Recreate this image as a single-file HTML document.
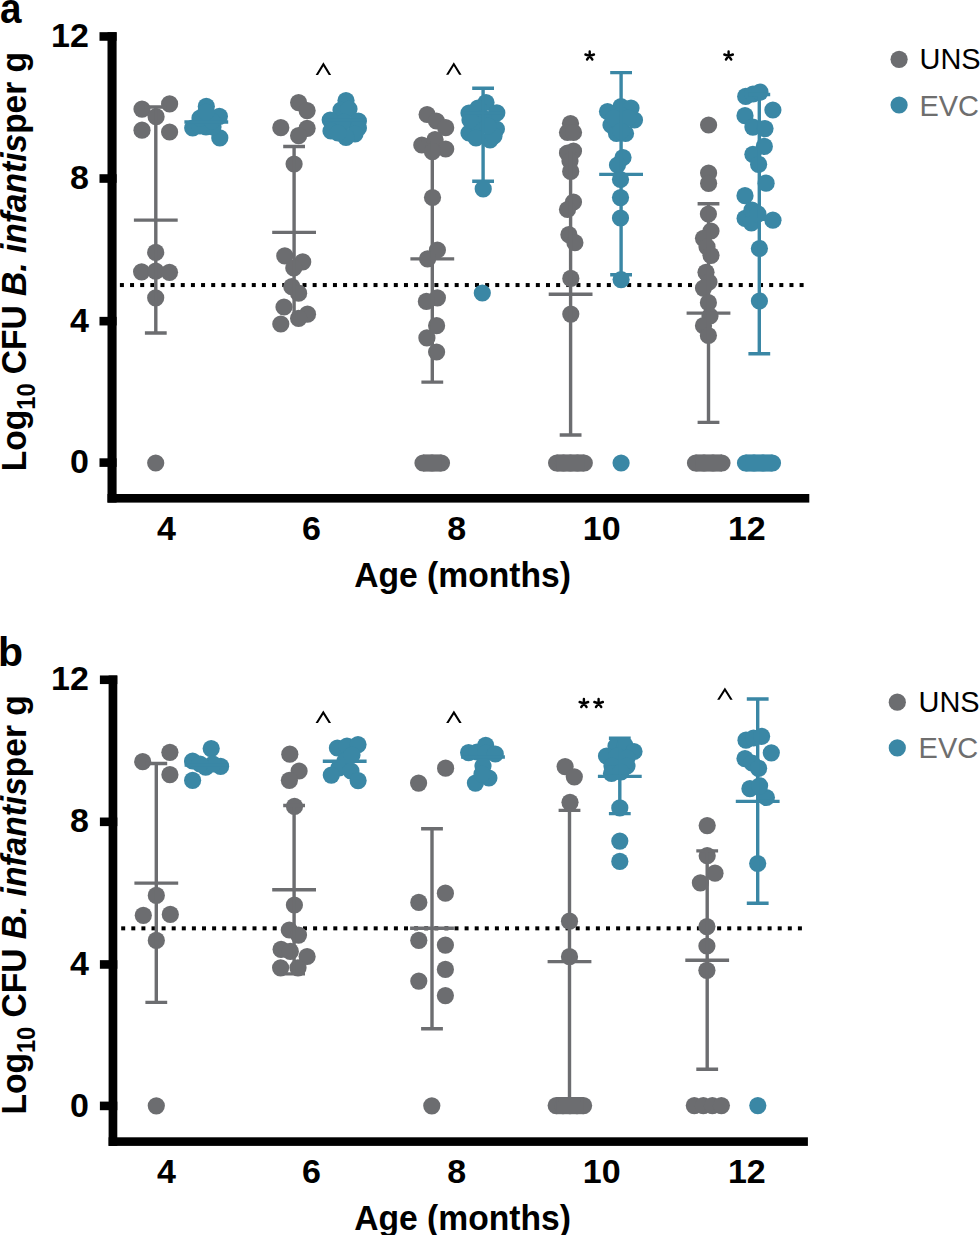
<!DOCTYPE html>
<html><head><meta charset="utf-8"><style>
html,body{margin:0;padding:0;background:#fff;width:980px;height:1235px;overflow:hidden}
svg{display:block}
text{font-family:"Liberation Sans",sans-serif}
.tl{font-weight:bold;font-size:34px}
.yt{font-weight:bold;font-size:35.5px}
.pl{font-weight:bold;font-size:40px}
.lg{font-size:30.4px}
</style></head><body>
<svg width="980" height="1235" viewBox="0 0 980 1235">
<rect x="107.5" y="32.2" width="9.1" height="470.40000000000003" fill="#000"/>
<rect x="99.5" y="458.30" width="17.10" height="8.6" fill="#000"/>
<text x="88.9" y="473.20" class="tl" text-anchor="end">0</text>
<rect x="99.5" y="316.86" width="17.10" height="8.6" fill="#000"/>
<text x="88.9" y="331.76" class="tl" text-anchor="end">4</text>
<rect x="99.5" y="174.22" width="17.10" height="8.6" fill="#000"/>
<text x="88.9" y="189.12" class="tl" text-anchor="end">8</text>
<rect x="99.5" y="32.18" width="17.10" height="8.6" fill="#000"/>
<text x="88.9" y="47.08" class="tl" text-anchor="end">12</text>
<rect x="107.5" y="494.00" width="701.80" height="8.6" fill="#000"/>
<text x="166.40" y="539.80" class="tl" text-anchor="middle">4</text>
<text x="311.50" y="539.80" class="tl" text-anchor="middle">6</text>
<text x="456.60" y="539.80" class="tl" text-anchor="middle">8</text>
<text x="601.70" y="539.80" class="tl" text-anchor="middle">10</text>
<text x="746.80" y="539.80" class="tl" text-anchor="middle">12</text>
<text transform="translate(462.6,586.90) scale(0.975,1)" class="tl" text-anchor="middle" style="font-size:34.5px">Age (months)</text>
<rect x="119.90" y="283.05" width="4" height="4" fill="#000"/>
<rect x="130.05" y="283.05" width="4" height="4" fill="#000"/>
<rect x="140.19" y="283.05" width="4" height="4" fill="#000"/>
<rect x="150.34" y="283.05" width="4" height="4" fill="#000"/>
<rect x="160.48" y="283.05" width="4" height="4" fill="#000"/>
<rect x="170.62" y="283.05" width="4" height="4" fill="#000"/>
<rect x="180.77" y="283.05" width="4" height="4" fill="#000"/>
<rect x="190.92" y="283.05" width="4" height="4" fill="#000"/>
<rect x="201.06" y="283.05" width="4" height="4" fill="#000"/>
<rect x="211.20" y="283.05" width="4" height="4" fill="#000"/>
<rect x="221.35" y="283.05" width="4" height="4" fill="#000"/>
<rect x="231.50" y="283.05" width="4" height="4" fill="#000"/>
<rect x="241.64" y="283.05" width="4" height="4" fill="#000"/>
<rect x="251.78" y="283.05" width="4" height="4" fill="#000"/>
<rect x="261.93" y="283.05" width="4" height="4" fill="#000"/>
<rect x="272.07" y="283.05" width="4" height="4" fill="#000"/>
<rect x="282.22" y="283.05" width="4" height="4" fill="#000"/>
<rect x="292.37" y="283.05" width="4" height="4" fill="#000"/>
<rect x="302.51" y="283.05" width="4" height="4" fill="#000"/>
<rect x="312.65" y="283.05" width="4" height="4" fill="#000"/>
<rect x="322.80" y="283.05" width="4" height="4" fill="#000"/>
<rect x="332.94" y="283.05" width="4" height="4" fill="#000"/>
<rect x="343.09" y="283.05" width="4" height="4" fill="#000"/>
<rect x="353.24" y="283.05" width="4" height="4" fill="#000"/>
<rect x="363.38" y="283.05" width="4" height="4" fill="#000"/>
<rect x="373.52" y="283.05" width="4" height="4" fill="#000"/>
<rect x="383.67" y="283.05" width="4" height="4" fill="#000"/>
<rect x="393.81" y="283.05" width="4" height="4" fill="#000"/>
<rect x="403.96" y="283.05" width="4" height="4" fill="#000"/>
<rect x="414.11" y="283.05" width="4" height="4" fill="#000"/>
<rect x="424.25" y="283.05" width="4" height="4" fill="#000"/>
<rect x="434.39" y="283.05" width="4" height="4" fill="#000"/>
<rect x="444.54" y="283.05" width="4" height="4" fill="#000"/>
<rect x="454.68" y="283.05" width="4" height="4" fill="#000"/>
<rect x="464.83" y="283.05" width="4" height="4" fill="#000"/>
<rect x="474.98" y="283.05" width="4" height="4" fill="#000"/>
<rect x="485.12" y="283.05" width="4" height="4" fill="#000"/>
<rect x="495.26" y="283.05" width="4" height="4" fill="#000"/>
<rect x="505.41" y="283.05" width="4" height="4" fill="#000"/>
<rect x="515.55" y="283.05" width="4" height="4" fill="#000"/>
<rect x="525.70" y="283.05" width="4" height="4" fill="#000"/>
<rect x="535.85" y="283.05" width="4" height="4" fill="#000"/>
<rect x="545.99" y="283.05" width="4" height="4" fill="#000"/>
<rect x="556.13" y="283.05" width="4" height="4" fill="#000"/>
<rect x="566.28" y="283.05" width="4" height="4" fill="#000"/>
<rect x="576.42" y="283.05" width="4" height="4" fill="#000"/>
<rect x="586.57" y="283.05" width="4" height="4" fill="#000"/>
<rect x="596.72" y="283.05" width="4" height="4" fill="#000"/>
<rect x="606.86" y="283.05" width="4" height="4" fill="#000"/>
<rect x="617.00" y="283.05" width="4" height="4" fill="#000"/>
<rect x="627.15" y="283.05" width="4" height="4" fill="#000"/>
<rect x="637.29" y="283.05" width="4" height="4" fill="#000"/>
<rect x="647.44" y="283.05" width="4" height="4" fill="#000"/>
<rect x="657.58" y="283.05" width="4" height="4" fill="#000"/>
<rect x="667.73" y="283.05" width="4" height="4" fill="#000"/>
<rect x="677.88" y="283.05" width="4" height="4" fill="#000"/>
<rect x="688.02" y="283.05" width="4" height="4" fill="#000"/>
<rect x="698.16" y="283.05" width="4" height="4" fill="#000"/>
<rect x="708.31" y="283.05" width="4" height="4" fill="#000"/>
<rect x="718.45" y="283.05" width="4" height="4" fill="#000"/>
<rect x="728.60" y="283.05" width="4" height="4" fill="#000"/>
<rect x="738.75" y="283.05" width="4" height="4" fill="#000"/>
<rect x="748.89" y="283.05" width="4" height="4" fill="#000"/>
<rect x="759.03" y="283.05" width="4" height="4" fill="#000"/>
<rect x="769.18" y="283.05" width="4" height="4" fill="#000"/>
<rect x="779.32" y="283.05" width="4" height="4" fill="#000"/>
<rect x="789.47" y="283.05" width="4" height="4" fill="#000"/>
<rect x="799.61" y="283.05" width="4" height="4" fill="#000"/>
<text transform="translate(26.2,471.20) rotate(-90) scale(0.945,1)" class="yt">Log<tspan font-size="25" dy="8.3">10</tspan><tspan dy="-8.3"> CFU </tspan><tspan font-style="italic">B. infantis</tspan>per g</text>
<circle cx="899.1" cy="59.30" r="8.6" fill="#6c6d70"/>
<circle cx="899.1" cy="105.00" r="8.6" fill="#3a87a5"/>
<text transform="translate(919.5,69.40) scale(0.952,1)" class="lg" fill="#000">UNS</text>
<text transform="translate(919.5,115.80) scale(0.952,1)" class="lg" fill="#6e6e6e">EVC</text>
<rect x="108.6" y="675.5" width="8.7" height="470.40000000000003" fill="#000"/>
<rect x="99.9" y="1101.60" width="17.40" height="8.6" fill="#000"/>
<text x="88.9" y="1116.50" class="tl" text-anchor="end">0</text>
<rect x="99.9" y="960.16" width="17.40" height="8.6" fill="#000"/>
<text x="88.9" y="975.06" class="tl" text-anchor="end">4</text>
<rect x="99.9" y="817.52" width="17.40" height="8.6" fill="#000"/>
<text x="88.9" y="832.42" class="tl" text-anchor="end">8</text>
<rect x="99.9" y="675.48" width="17.40" height="8.6" fill="#000"/>
<text x="88.9" y="690.38" class="tl" text-anchor="end">12</text>
<rect x="108.6" y="1137.30" width="699.30" height="8.6" fill="#000"/>
<text x="166.40" y="1183.10" class="tl" text-anchor="middle">4</text>
<text x="311.50" y="1183.10" class="tl" text-anchor="middle">6</text>
<text x="456.60" y="1183.10" class="tl" text-anchor="middle">8</text>
<text x="601.70" y="1183.10" class="tl" text-anchor="middle">10</text>
<text x="746.80" y="1183.10" class="tl" text-anchor="middle">12</text>
<text transform="translate(462.6,1230.20) scale(0.975,1)" class="tl" text-anchor="middle" style="font-size:34.5px">Age (months)</text>
<rect x="121.20" y="926.35" width="4" height="4" fill="#000"/>
<rect x="131.30" y="926.35" width="4" height="4" fill="#000"/>
<rect x="141.40" y="926.35" width="4" height="4" fill="#000"/>
<rect x="151.50" y="926.35" width="4" height="4" fill="#000"/>
<rect x="161.60" y="926.35" width="4" height="4" fill="#000"/>
<rect x="171.70" y="926.35" width="4" height="4" fill="#000"/>
<rect x="181.80" y="926.35" width="4" height="4" fill="#000"/>
<rect x="191.90" y="926.35" width="4" height="4" fill="#000"/>
<rect x="202.00" y="926.35" width="4" height="4" fill="#000"/>
<rect x="212.10" y="926.35" width="4" height="4" fill="#000"/>
<rect x="222.20" y="926.35" width="4" height="4" fill="#000"/>
<rect x="232.30" y="926.35" width="4" height="4" fill="#000"/>
<rect x="242.40" y="926.35" width="4" height="4" fill="#000"/>
<rect x="252.50" y="926.35" width="4" height="4" fill="#000"/>
<rect x="262.60" y="926.35" width="4" height="4" fill="#000"/>
<rect x="272.70" y="926.35" width="4" height="4" fill="#000"/>
<rect x="282.80" y="926.35" width="4" height="4" fill="#000"/>
<rect x="292.90" y="926.35" width="4" height="4" fill="#000"/>
<rect x="303.00" y="926.35" width="4" height="4" fill="#000"/>
<rect x="313.10" y="926.35" width="4" height="4" fill="#000"/>
<rect x="323.20" y="926.35" width="4" height="4" fill="#000"/>
<rect x="333.30" y="926.35" width="4" height="4" fill="#000"/>
<rect x="343.40" y="926.35" width="4" height="4" fill="#000"/>
<rect x="353.50" y="926.35" width="4" height="4" fill="#000"/>
<rect x="363.60" y="926.35" width="4" height="4" fill="#000"/>
<rect x="373.70" y="926.35" width="4" height="4" fill="#000"/>
<rect x="383.80" y="926.35" width="4" height="4" fill="#000"/>
<rect x="393.90" y="926.35" width="4" height="4" fill="#000"/>
<rect x="404.00" y="926.35" width="4" height="4" fill="#000"/>
<rect x="414.10" y="926.35" width="4" height="4" fill="#000"/>
<rect x="424.20" y="926.35" width="4" height="4" fill="#000"/>
<rect x="434.30" y="926.35" width="4" height="4" fill="#000"/>
<rect x="444.40" y="926.35" width="4" height="4" fill="#000"/>
<rect x="454.50" y="926.35" width="4" height="4" fill="#000"/>
<rect x="464.60" y="926.35" width="4" height="4" fill="#000"/>
<rect x="474.70" y="926.35" width="4" height="4" fill="#000"/>
<rect x="484.80" y="926.35" width="4" height="4" fill="#000"/>
<rect x="494.90" y="926.35" width="4" height="4" fill="#000"/>
<rect x="505.00" y="926.35" width="4" height="4" fill="#000"/>
<rect x="515.10" y="926.35" width="4" height="4" fill="#000"/>
<rect x="525.20" y="926.35" width="4" height="4" fill="#000"/>
<rect x="535.30" y="926.35" width="4" height="4" fill="#000"/>
<rect x="545.40" y="926.35" width="4" height="4" fill="#000"/>
<rect x="555.50" y="926.35" width="4" height="4" fill="#000"/>
<rect x="565.60" y="926.35" width="4" height="4" fill="#000"/>
<rect x="575.70" y="926.35" width="4" height="4" fill="#000"/>
<rect x="585.80" y="926.35" width="4" height="4" fill="#000"/>
<rect x="595.90" y="926.35" width="4" height="4" fill="#000"/>
<rect x="606.00" y="926.35" width="4" height="4" fill="#000"/>
<rect x="616.10" y="926.35" width="4" height="4" fill="#000"/>
<rect x="626.20" y="926.35" width="4" height="4" fill="#000"/>
<rect x="636.30" y="926.35" width="4" height="4" fill="#000"/>
<rect x="646.40" y="926.35" width="4" height="4" fill="#000"/>
<rect x="656.50" y="926.35" width="4" height="4" fill="#000"/>
<rect x="666.60" y="926.35" width="4" height="4" fill="#000"/>
<rect x="676.70" y="926.35" width="4" height="4" fill="#000"/>
<rect x="686.80" y="926.35" width="4" height="4" fill="#000"/>
<rect x="696.90" y="926.35" width="4" height="4" fill="#000"/>
<rect x="707.00" y="926.35" width="4" height="4" fill="#000"/>
<rect x="717.10" y="926.35" width="4" height="4" fill="#000"/>
<rect x="727.20" y="926.35" width="4" height="4" fill="#000"/>
<rect x="737.30" y="926.35" width="4" height="4" fill="#000"/>
<rect x="747.40" y="926.35" width="4" height="4" fill="#000"/>
<rect x="757.50" y="926.35" width="4" height="4" fill="#000"/>
<rect x="767.60" y="926.35" width="4" height="4" fill="#000"/>
<rect x="777.70" y="926.35" width="4" height="4" fill="#000"/>
<rect x="787.80" y="926.35" width="4" height="4" fill="#000"/>
<rect x="797.90" y="926.35" width="4" height="4" fill="#000"/>
<text transform="translate(26.2,1114.50) rotate(-90) scale(0.945,1)" class="yt">Log<tspan font-size="25" dy="8.3">10</tspan><tspan dy="-8.3"> CFU </tspan><tspan font-style="italic">B. infantis</tspan>per g</text>
<circle cx="897.3" cy="702.20" r="8.6" fill="#6c6d70"/>
<circle cx="897.3" cy="747.90" r="8.6" fill="#3a87a5"/>
<text transform="translate(918.6,711.80) scale(0.952,1)" class="lg" fill="#000">UNS</text>
<text transform="translate(918.6,757.80) scale(0.952,1)" class="lg" fill="#6e6e6e">EVC</text>
<text transform="translate(-0.1,22.9) scale(0.92,1)" class="pl" style="font-size:42px">a</text>
<text x="-2.0" y="665.5" class="pl" style="font-size:41px">b</text>
<circle cx="142" cy="109.1" r="8.6" fill="#6c6d70"/>
<circle cx="169.6" cy="103.9" r="8.6" fill="#6c6d70"/>
<circle cx="156.1" cy="116.7" r="8.6" fill="#6c6d70"/>
<circle cx="142" cy="130.2" r="8.6" fill="#6c6d70"/>
<circle cx="169.6" cy="132" r="8.6" fill="#6c6d70"/>
<circle cx="155.7" cy="252.4" r="8.6" fill="#6c6d70"/>
<circle cx="141.6" cy="271.8" r="8.6" fill="#6c6d70"/>
<circle cx="155.7" cy="271.1" r="8.6" fill="#6c6d70"/>
<circle cx="169.5" cy="272.3" r="8.6" fill="#6c6d70"/>
<circle cx="155.7" cy="297.8" r="8.6" fill="#6c6d70"/>
<circle cx="155.7" cy="463" r="8.6" fill="#6c6d70"/>
<circle cx="206.3" cy="106.4" r="8.6" fill="#3a87a5"/>
<circle cx="219.4" cy="116.3" r="8.6" fill="#3a87a5"/>
<circle cx="192.7" cy="128" r="8.6" fill="#3a87a5"/>
<circle cx="219.8" cy="137.9" r="8.6" fill="#3a87a5"/>
<circle cx="205" cy="119" r="8.6" fill="#3a87a5"/>
<circle cx="206" cy="127" r="8.6" fill="#3a87a5"/>
<circle cx="213" cy="127" r="8.6" fill="#3a87a5"/>
<circle cx="200" cy="126" r="8.6" fill="#3a87a5"/>
<circle cx="200" cy="118" r="8.6" fill="#3a87a5"/>
<circle cx="212" cy="121" r="8.6" fill="#3a87a5"/>
<circle cx="206" cy="112" r="8.6" fill="#3a87a5"/>
<circle cx="298.6" cy="102.6" r="8.6" fill="#6c6d70"/>
<circle cx="307.1" cy="110.6" r="8.6" fill="#6c6d70"/>
<circle cx="280.8" cy="127.7" r="8.6" fill="#6c6d70"/>
<circle cx="307.1" cy="128.3" r="8.6" fill="#6c6d70"/>
<circle cx="298.6" cy="135.7" r="8.6" fill="#6c6d70"/>
<circle cx="294.1" cy="164" r="8.6" fill="#6c6d70"/>
<circle cx="284.8" cy="255.9" r="8.6" fill="#6c6d70"/>
<circle cx="302.7" cy="261.9" r="8.6" fill="#6c6d70"/>
<circle cx="293.8" cy="268" r="8.6" fill="#6c6d70"/>
<circle cx="291.8" cy="286.7" r="8.6" fill="#6c6d70"/>
<circle cx="298.6" cy="293.2" r="8.6" fill="#6c6d70"/>
<circle cx="284" cy="307" r="8.6" fill="#6c6d70"/>
<circle cx="307.5" cy="314.2" r="8.6" fill="#6c6d70"/>
<circle cx="298.6" cy="318.3" r="8.6" fill="#6c6d70"/>
<circle cx="280.8" cy="324" r="8.6" fill="#6c6d70"/>
<circle cx="346" cy="100.5" r="8.6" fill="#3a87a5"/>
<circle cx="341" cy="110" r="8.6" fill="#3a87a5"/>
<circle cx="349" cy="109" r="8.6" fill="#3a87a5"/>
<circle cx="330.2" cy="120" r="8.6" fill="#3a87a5"/>
<circle cx="344" cy="122" r="8.6" fill="#3a87a5"/>
<circle cx="358.4" cy="121" r="8.6" fill="#3a87a5"/>
<circle cx="331" cy="131" r="8.6" fill="#3a87a5"/>
<circle cx="358.4" cy="128" r="8.6" fill="#3a87a5"/>
<circle cx="355" cy="134" r="8.6" fill="#3a87a5"/>
<circle cx="346" cy="137.3" r="8.6" fill="#3a87a5"/>
<circle cx="338" cy="133" r="8.6" fill="#3a87a5"/>
<circle cx="427.1" cy="114.5" r="8.6" fill="#6c6d70"/>
<circle cx="436.4" cy="121" r="8.6" fill="#6c6d70"/>
<circle cx="445.7" cy="127.7" r="8.6" fill="#6c6d70"/>
<circle cx="421.8" cy="145" r="8.6" fill="#6c6d70"/>
<circle cx="435" cy="139.7" r="8.6" fill="#6c6d70"/>
<circle cx="445.7" cy="149" r="8.6" fill="#6c6d70"/>
<circle cx="432.4" cy="151.6" r="8.6" fill="#6c6d70"/>
<circle cx="432.5" cy="197.5" r="8.6" fill="#6c6d70"/>
<circle cx="437.4" cy="250" r="8.6" fill="#6c6d70"/>
<circle cx="427.6" cy="258.9" r="8.6" fill="#6c6d70"/>
<circle cx="437.4" cy="297.8" r="8.6" fill="#6c6d70"/>
<circle cx="426.4" cy="301.4" r="8.6" fill="#6c6d70"/>
<circle cx="436.6" cy="325.7" r="8.6" fill="#6c6d70"/>
<circle cx="426.9" cy="337.9" r="8.6" fill="#6c6d70"/>
<circle cx="436.6" cy="352" r="8.6" fill="#6c6d70"/>
<circle cx="423" cy="463" r="8.6" fill="#6c6d70"/>
<circle cx="432" cy="463" r="8.6" fill="#6c6d70"/>
<circle cx="441.5" cy="463" r="8.6" fill="#6c6d70"/>
<rect x="423" y="454.4" width="18.50" height="17.2" fill="#6c6d70"/>
<circle cx="486" cy="102.5" r="8.6" fill="#3a87a5"/>
<circle cx="469" cy="113" r="8.6" fill="#3a87a5"/>
<circle cx="496.8" cy="112.9" r="8.6" fill="#3a87a5"/>
<circle cx="469" cy="133" r="8.6" fill="#3a87a5"/>
<circle cx="496.4" cy="129" r="8.6" fill="#3a87a5"/>
<circle cx="490" cy="140" r="8.6" fill="#3a87a5"/>
<circle cx="494" cy="136" r="8.6" fill="#3a87a5"/>
<circle cx="478" cy="108" r="8.6" fill="#3a87a5"/>
<circle cx="483" cy="118" r="8.6" fill="#3a87a5"/>
<circle cx="478" cy="125" r="8.6" fill="#3a87a5"/>
<circle cx="488" cy="126" r="8.6" fill="#3a87a5"/>
<circle cx="476" cy="138" r="8.6" fill="#3a87a5"/>
<circle cx="470" cy="120" r="8.6" fill="#3a87a5"/>
<circle cx="483.2" cy="188.9" r="8.6" fill="#3a87a5"/>
<circle cx="482.3" cy="293" r="8.6" fill="#3a87a5"/>
<circle cx="570.5" cy="123.5" r="8.6" fill="#6c6d70"/>
<circle cx="567.5" cy="132.5" r="8.6" fill="#6c6d70"/>
<circle cx="573.5" cy="132.5" r="8.6" fill="#6c6d70"/>
<circle cx="573.5" cy="151" r="8.6" fill="#6c6d70"/>
<circle cx="567.5" cy="153" r="8.6" fill="#6c6d70"/>
<circle cx="570" cy="161" r="8.6" fill="#6c6d70"/>
<circle cx="570.7" cy="171.4" r="8.6" fill="#6c6d70"/>
<circle cx="573.5" cy="202" r="8.6" fill="#6c6d70"/>
<circle cx="567.5" cy="209.5" r="8.6" fill="#6c6d70"/>
<circle cx="568.9" cy="234.7" r="8.6" fill="#6c6d70"/>
<circle cx="574.9" cy="242.7" r="8.6" fill="#6c6d70"/>
<circle cx="570.8" cy="278.4" r="8.6" fill="#6c6d70"/>
<circle cx="570.8" cy="314.1" r="8.6" fill="#6c6d70"/>
<circle cx="556.6" cy="463" r="8.6" fill="#6c6d70"/>
<circle cx="563.5" cy="463" r="8.6" fill="#6c6d70"/>
<circle cx="570.5" cy="463" r="8.6" fill="#6c6d70"/>
<circle cx="577.5" cy="463" r="8.6" fill="#6c6d70"/>
<circle cx="584.3" cy="463" r="8.6" fill="#6c6d70"/>
<rect x="556.6" y="454.4" width="27.70" height="17.2" fill="#6c6d70"/>
<circle cx="621" cy="106.5" r="8.6" fill="#3a87a5"/>
<circle cx="607.5" cy="111.5" r="8.6" fill="#3a87a5"/>
<circle cx="631" cy="108" r="8.6" fill="#3a87a5"/>
<circle cx="634.5" cy="120" r="8.6" fill="#3a87a5"/>
<circle cx="611" cy="125" r="8.6" fill="#3a87a5"/>
<circle cx="621" cy="124" r="8.6" fill="#3a87a5"/>
<circle cx="616.5" cy="133.5" r="8.6" fill="#3a87a5"/>
<circle cx="625.5" cy="133.5" r="8.6" fill="#3a87a5"/>
<circle cx="621" cy="115" r="8.6" fill="#3a87a5"/>
<circle cx="614" cy="118" r="8.6" fill="#3a87a5"/>
<circle cx="628" cy="118" r="8.6" fill="#3a87a5"/>
<circle cx="621" cy="131" r="8.6" fill="#3a87a5"/>
<circle cx="623" cy="157.5" r="8.6" fill="#3a87a5"/>
<circle cx="617.5" cy="165" r="8.6" fill="#3a87a5"/>
<circle cx="620.5" cy="179.5" r="8.6" fill="#3a87a5"/>
<circle cx="620.5" cy="197.6" r="8.6" fill="#3a87a5"/>
<circle cx="620.5" cy="218" r="8.6" fill="#3a87a5"/>
<circle cx="621.1" cy="279.6" r="8.6" fill="#3a87a5"/>
<circle cx="621.1" cy="463" r="8.6" fill="#3a87a5"/>
<circle cx="708.6" cy="125" r="8.6" fill="#6c6d70"/>
<circle cx="708.6" cy="173" r="8.6" fill="#6c6d70"/>
<circle cx="708.6" cy="183.3" r="8.6" fill="#6c6d70"/>
<circle cx="708.4" cy="214" r="8.6" fill="#6c6d70"/>
<circle cx="711" cy="231" r="8.6" fill="#6c6d70"/>
<circle cx="703.5" cy="238.3" r="8.6" fill="#6c6d70"/>
<circle cx="707" cy="246.8" r="8.6" fill="#6c6d70"/>
<circle cx="711" cy="255.3" r="8.6" fill="#6c6d70"/>
<circle cx="706" cy="272.3" r="8.6" fill="#6c6d70"/>
<circle cx="709" cy="282" r="8.6" fill="#6c6d70"/>
<circle cx="703.5" cy="288.1" r="8.6" fill="#6c6d70"/>
<circle cx="708.4" cy="302.7" r="8.6" fill="#6c6d70"/>
<circle cx="710" cy="316" r="8.6" fill="#6c6d70"/>
<circle cx="703.5" cy="325.7" r="8.6" fill="#6c6d70"/>
<circle cx="708.4" cy="335.5" r="8.6" fill="#6c6d70"/>
<circle cx="695.5" cy="463" r="8.6" fill="#6c6d70"/>
<circle cx="704" cy="463" r="8.6" fill="#6c6d70"/>
<circle cx="713" cy="463" r="8.6" fill="#6c6d70"/>
<circle cx="722" cy="463" r="8.6" fill="#6c6d70"/>
<rect x="695.5" y="454.4" width="26.50" height="17.2" fill="#6c6d70"/>
<circle cx="745.7" cy="96.4" r="8.6" fill="#3a87a5"/>
<circle cx="753" cy="94" r="8.6" fill="#3a87a5"/>
<circle cx="760" cy="92.1" r="8.6" fill="#3a87a5"/>
<circle cx="772.9" cy="110" r="8.6" fill="#3a87a5"/>
<circle cx="745" cy="115.7" r="8.6" fill="#3a87a5"/>
<circle cx="752.9" cy="127.1" r="8.6" fill="#3a87a5"/>
<circle cx="765" cy="128.6" r="8.6" fill="#3a87a5"/>
<circle cx="764.3" cy="146.4" r="8.6" fill="#3a87a5"/>
<circle cx="752.9" cy="154.3" r="8.6" fill="#3a87a5"/>
<circle cx="758.6" cy="164.3" r="8.6" fill="#3a87a5"/>
<circle cx="766.1" cy="183.2" r="8.6" fill="#3a87a5"/>
<circle cx="745" cy="195.7" r="8.6" fill="#3a87a5"/>
<circle cx="745.1" cy="218.4" r="8.6" fill="#3a87a5"/>
<circle cx="772.9" cy="220.2" r="8.6" fill="#3a87a5"/>
<circle cx="751.4" cy="222.8" r="8.6" fill="#3a87a5"/>
<circle cx="752" cy="210" r="8.6" fill="#3a87a5"/>
<circle cx="758" cy="214" r="8.6" fill="#3a87a5"/>
<circle cx="759.4" cy="248.5" r="8.6" fill="#3a87a5"/>
<circle cx="759.4" cy="301" r="8.6" fill="#3a87a5"/>
<circle cx="745.5" cy="463" r="8.6" fill="#3a87a5"/>
<circle cx="754" cy="463" r="8.6" fill="#3a87a5"/>
<circle cx="763" cy="463" r="8.6" fill="#3a87a5"/>
<circle cx="772.5" cy="463" r="8.6" fill="#3a87a5"/>
<rect x="745.5" y="454.4" width="27.00" height="17.2" fill="#3a87a5"/>
<circle cx="142.7" cy="761.7" r="8.6" fill="#6c6d70"/>
<circle cx="169.9" cy="752.3" r="8.6" fill="#6c6d70"/>
<circle cx="169.9" cy="774.7" r="8.6" fill="#6c6d70"/>
<circle cx="156.3" cy="895.4" r="8.6" fill="#6c6d70"/>
<circle cx="143.3" cy="915.3" r="8.6" fill="#6c6d70"/>
<circle cx="170.3" cy="914.4" r="8.6" fill="#6c6d70"/>
<circle cx="156.3" cy="940.4" r="8.6" fill="#6c6d70"/>
<circle cx="156.3" cy="1105.8" r="8.6" fill="#6c6d70"/>
<circle cx="211.2" cy="748.6" r="8.6" fill="#3a87a5"/>
<circle cx="192.6" cy="761" r="8.6" fill="#3a87a5"/>
<circle cx="220.6" cy="766.3" r="8.6" fill="#3a87a5"/>
<circle cx="192.6" cy="780.3" r="8.6" fill="#3a87a5"/>
<circle cx="205.7" cy="767.2" r="8.6" fill="#3a87a5"/>
<circle cx="213" cy="764" r="8.6" fill="#3a87a5"/>
<circle cx="200" cy="764" r="8.6" fill="#3a87a5"/>
<circle cx="289.8" cy="754.2" r="8.6" fill="#6c6d70"/>
<circle cx="299.1" cy="771" r="8.6" fill="#6c6d70"/>
<circle cx="289.4" cy="780.3" r="8.6" fill="#6c6d70"/>
<circle cx="294.5" cy="806.4" r="8.6" fill="#6c6d70"/>
<circle cx="294.4" cy="905" r="8.6" fill="#6c6d70"/>
<circle cx="289.3" cy="930" r="8.6" fill="#6c6d70"/>
<circle cx="298.5" cy="935.1" r="8.6" fill="#6c6d70"/>
<circle cx="281.1" cy="949.4" r="8.6" fill="#6c6d70"/>
<circle cx="290.3" cy="951.4" r="8.6" fill="#6c6d70"/>
<circle cx="307.1" cy="956.5" r="8.6" fill="#6c6d70"/>
<circle cx="280.6" cy="967.8" r="8.6" fill="#6c6d70"/>
<circle cx="298" cy="967.8" r="8.6" fill="#6c6d70"/>
<circle cx="337.4" cy="748" r="8.6" fill="#3a87a5"/>
<circle cx="347" cy="746" r="8.6" fill="#3a87a5"/>
<circle cx="358" cy="744.6" r="8.6" fill="#3a87a5"/>
<circle cx="345" cy="761" r="8.6" fill="#3a87a5"/>
<circle cx="352" cy="755" r="8.6" fill="#3a87a5"/>
<circle cx="339" cy="768" r="8.6" fill="#3a87a5"/>
<circle cx="351" cy="771" r="8.6" fill="#3a87a5"/>
<circle cx="331.3" cy="775.1" r="8.6" fill="#3a87a5"/>
<circle cx="358.1" cy="780.6" r="8.6" fill="#3a87a5"/>
<circle cx="418.6" cy="783.1" r="8.6" fill="#6c6d70"/>
<circle cx="445.6" cy="768.2" r="8.6" fill="#6c6d70"/>
<circle cx="418.8" cy="902.4" r="8.6" fill="#6c6d70"/>
<circle cx="445.4" cy="893.2" r="8.6" fill="#6c6d70"/>
<circle cx="418.8" cy="940.3" r="8.6" fill="#6c6d70"/>
<circle cx="445.4" cy="945.1" r="8.6" fill="#6c6d70"/>
<circle cx="445.4" cy="969.4" r="8.6" fill="#6c6d70"/>
<circle cx="418.8" cy="981.1" r="8.6" fill="#6c6d70"/>
<circle cx="445.4" cy="995.6" r="8.6" fill="#6c6d70"/>
<circle cx="431.8" cy="1105.8" r="8.6" fill="#6c6d70"/>
<circle cx="468.6" cy="752.6" r="8.6" fill="#3a87a5"/>
<circle cx="477" cy="752" r="8.6" fill="#3a87a5"/>
<circle cx="485.7" cy="745.4" r="8.6" fill="#3a87a5"/>
<circle cx="486" cy="753" r="8.6" fill="#3a87a5"/>
<circle cx="495.3" cy="754" r="8.6" fill="#3a87a5"/>
<circle cx="483" cy="766" r="8.6" fill="#3a87a5"/>
<circle cx="488.9" cy="778" r="8.6" fill="#3a87a5"/>
<circle cx="475.4" cy="783.1" r="8.6" fill="#3a87a5"/>
<circle cx="482" cy="774" r="8.6" fill="#3a87a5"/>
<circle cx="565.1" cy="766.6" r="8.6" fill="#6c6d70"/>
<circle cx="574.3" cy="776.8" r="8.6" fill="#6c6d70"/>
<circle cx="570" cy="802.3" r="8.6" fill="#6c6d70"/>
<circle cx="569.5" cy="921.2" r="8.6" fill="#6c6d70"/>
<circle cx="569.5" cy="956.7" r="8.6" fill="#6c6d70"/>
<circle cx="556.2" cy="1105.6" r="8.6" fill="#6c6d70"/>
<circle cx="563" cy="1105.6" r="8.6" fill="#6c6d70"/>
<circle cx="570" cy="1105.6" r="8.6" fill="#6c6d70"/>
<circle cx="577" cy="1105.6" r="8.6" fill="#6c6d70"/>
<circle cx="583.6" cy="1105.6" r="8.6" fill="#6c6d70"/>
<rect x="556.2" y="1097.0" width="27.40" height="17.2" fill="#6c6d70"/>
<circle cx="616" cy="746" r="8.6" fill="#3a87a5"/>
<circle cx="625" cy="745.5" r="8.6" fill="#3a87a5"/>
<circle cx="634" cy="751.5" r="8.6" fill="#3a87a5"/>
<circle cx="606.5" cy="756" r="8.6" fill="#3a87a5"/>
<circle cx="617" cy="756" r="8.6" fill="#3a87a5"/>
<circle cx="627" cy="758" r="8.6" fill="#3a87a5"/>
<circle cx="612" cy="766" r="8.6" fill="#3a87a5"/>
<circle cx="627" cy="766" r="8.6" fill="#3a87a5"/>
<circle cx="611.5" cy="773.5" r="8.6" fill="#3a87a5"/>
<circle cx="621" cy="772" r="8.6" fill="#3a87a5"/>
<circle cx="619.8" cy="807.9" r="8.6" fill="#3a87a5"/>
<circle cx="619.8" cy="841.1" r="8.6" fill="#3a87a5"/>
<circle cx="619.8" cy="861.4" r="8.6" fill="#3a87a5"/>
<circle cx="707.2" cy="825.6" r="8.6" fill="#6c6d70"/>
<circle cx="707.2" cy="855.7" r="8.6" fill="#6c6d70"/>
<circle cx="715" cy="873.2" r="8.6" fill="#6c6d70"/>
<circle cx="700.4" cy="882.9" r="8.6" fill="#6c6d70"/>
<circle cx="706.9" cy="926.6" r="8.6" fill="#6c6d70"/>
<circle cx="706.9" cy="946" r="8.6" fill="#6c6d70"/>
<circle cx="706.9" cy="970.3" r="8.6" fill="#6c6d70"/>
<circle cx="694.3" cy="1105.6" r="8.6" fill="#6c6d70"/>
<circle cx="703.3" cy="1105.6" r="8.6" fill="#6c6d70"/>
<circle cx="712.4" cy="1105.6" r="8.6" fill="#6c6d70"/>
<circle cx="721.4" cy="1105.6" r="8.6" fill="#6c6d70"/>
<circle cx="746" cy="740.2" r="8.6" fill="#3a87a5"/>
<circle cx="753.5" cy="738" r="8.6" fill="#3a87a5"/>
<circle cx="761.6" cy="736.3" r="8.6" fill="#3a87a5"/>
<circle cx="771.3" cy="752.8" r="8.6" fill="#3a87a5"/>
<circle cx="745" cy="758.6" r="8.6" fill="#3a87a5"/>
<circle cx="752" cy="763" r="8.6" fill="#3a87a5"/>
<circle cx="758.6" cy="768.3" r="8.6" fill="#3a87a5"/>
<circle cx="749.9" cy="788.7" r="8.6" fill="#3a87a5"/>
<circle cx="766.4" cy="797.5" r="8.6" fill="#3a87a5"/>
<circle cx="759.6" cy="785.8" r="8.6" fill="#3a87a5"/>
<circle cx="757.7" cy="863.5" r="8.6" fill="#3a87a5"/>
<circle cx="757.8" cy="1105.6" r="8.6" fill="#3a87a5"/>
<path d="M155.8 107V333.0M133.9 220.1h43.8M144.9 107h21.8M144.9 333.0h21.8" stroke="#6c6d70" stroke-width="3.4" fill="none"/>
<path d="M206.3 122V122M184.4 122h43.8M195.4 122h21.8M195.4 122h21.8" stroke="#3a87a5" stroke-width="3.4" fill="none"/>
<path d="M294.1 146.5V318M272.20000000000005 232.4h43.8M283.20000000000005 146.5h21.8" stroke="#6c6d70" stroke-width="3.4" fill="none"/>
<path d="M344.3 120V120M322.40000000000003 120h43.8M333.40000000000003 120h21.8M333.40000000000003 120h21.8" stroke="#3a87a5" stroke-width="3.4" fill="none"/>
<path d="M432.3 140V382.1M410.40000000000003 258.9h43.8M421.40000000000003 140h21.8M421.40000000000003 382.1h21.8" stroke="#6c6d70" stroke-width="3.4" fill="none"/>
<path d="M483.1 88.3V181.3M461.20000000000005 113h43.8M472.20000000000005 88.3h21.8M472.20000000000005 181.3h21.8" stroke="#3a87a5" stroke-width="3.4" fill="none"/>
<path d="M570.6 150V435.0M548.7 294.2h43.8M559.7 150h21.8M559.7 435.0h21.8" stroke="#6c6d70" stroke-width="3.4" fill="none"/>
<path d="M621.1 72.6V274.7M599.2 174.4h43.8M610.2 72.6h21.8M610.2 274.7h21.8" stroke="#3a87a5" stroke-width="3.4" fill="none"/>
<path d="M708.5 203.8V422.4M686.6 313.1h43.8M697.6 203.8h21.8M697.6 422.4h21.8" stroke="#6c6d70" stroke-width="3.4" fill="none"/>
<path d="M759.3 94.5V353.7M737.4 219.3h43.8M748.4 94.5h21.8M748.4 353.7h21.8" stroke="#3a87a5" stroke-width="3.4" fill="none"/>
<path d="M156.3 763.5V1002.4M134.4 883.1h43.8M145.4 763.5h21.8M145.4 1002.4h21.8" stroke="#6c6d70" stroke-width="3.4" fill="none"/>
<path d="M206.5 765V765M184.6 765h43.8M195.6 765h21.8M195.6 765h21.8" stroke="#3a87a5" stroke-width="3.4" fill="none"/>
<path d="M294.1 805.5V973.9M272.20000000000005 889.7h43.8M283.20000000000005 805.5h21.8M283.20000000000005 973.9h21.8" stroke="#6c6d70" stroke-width="3.4" fill="none"/>
<path d="M344.7 761.3V761.3M322.8 761.3h43.8M333.8 761.3h21.8M333.8 761.3h21.8" stroke="#3a87a5" stroke-width="3.4" fill="none"/>
<path d="M432.0 828.7V1028.7M410.1 928.2h43.8M421.1 828.7h21.8M421.1 1028.7h21.8" stroke="#6c6d70" stroke-width="3.4" fill="none"/>
<path d="M483.0 757V757M461.1 757h43.8M472.1 757h21.8M472.1 757h21.8" stroke="#3a87a5" stroke-width="3.4" fill="none"/>
<path d="M569.5 810.4V1100M547.6 961.6h43.8M558.6 810.4h21.8M558.6 1100h21.8" stroke="#6c6d70" stroke-width="3.4" fill="none"/>
<path d="M619.8 738.3V813.6M597.9 776.4h43.8M608.9 738.3h21.8M608.9 813.6h21.8" stroke="#3a87a5" stroke-width="3.4" fill="none"/>
<path d="M707.2 850.9V1069.3M685.3000000000001 960.2h43.8M696.3000000000001 850.9h21.8M696.3000000000001 1069.3h21.8" stroke="#6c6d70" stroke-width="3.4" fill="none"/>
<path d="M757.7 699V903.3M735.8000000000001 801.4h43.8M746.8000000000001 699h21.8M746.8000000000001 903.3h21.8" stroke="#3a87a5" stroke-width="3.4" fill="none"/>
<path d="M315.65 75.00L323.40 62.20L331.15 75.00L328.75 75.00L323.40 66.16L318.05 75.00Z" fill="#000"/>
<path d="M446.05 74.80L453.80 62.20L461.55 74.80L459.15 74.80L453.80 66.10L448.45 74.80Z" fill="#000"/>
<path d="M315.55 723.10L323.30 710.50L331.05 723.10L328.65 723.10L323.30 714.40L317.95 723.10Z" fill="#000"/>
<path d="M446.15 723.10L453.90 710.50L461.65 723.10L459.25 723.10L453.90 714.40L448.55 723.10Z" fill="#000"/>
<path d="M717.15 699.80L724.90 687.40L732.65 699.80L730.25 699.80L724.90 691.24L719.55 699.80Z" fill="#000"/>
<path d="M589.70 55.90L589.70 51.40M589.70 55.90L585.42 54.51M589.70 55.90L587.05 59.54M589.70 55.90L592.35 59.54M589.70 55.90L593.98 54.51" stroke="#000" stroke-width="2.4" stroke-linecap="round" fill="none"/>
<path d="M728.60 55.90L728.60 51.40M728.60 55.90L724.32 54.51M728.60 55.90L725.95 59.54M728.60 55.90L731.25 59.54M728.60 55.90L732.88 54.51" stroke="#000" stroke-width="2.4" stroke-linecap="round" fill="none"/>
<path d="M583.90 703.40L583.90 698.90M583.90 703.40L579.62 702.01M583.90 703.40L581.25 707.04M583.90 703.40L586.55 707.04M583.90 703.40L588.18 702.01" stroke="#000" stroke-width="2.4" stroke-linecap="round" fill="none"/>
<path d="M598.60 703.40L598.60 698.90M598.60 703.40L594.32 702.01M598.60 703.40L595.95 707.04M598.60 703.40L601.25 707.04M598.60 703.40L602.88 702.01" stroke="#000" stroke-width="2.4" stroke-linecap="round" fill="none"/>
</svg>
</body></html>
